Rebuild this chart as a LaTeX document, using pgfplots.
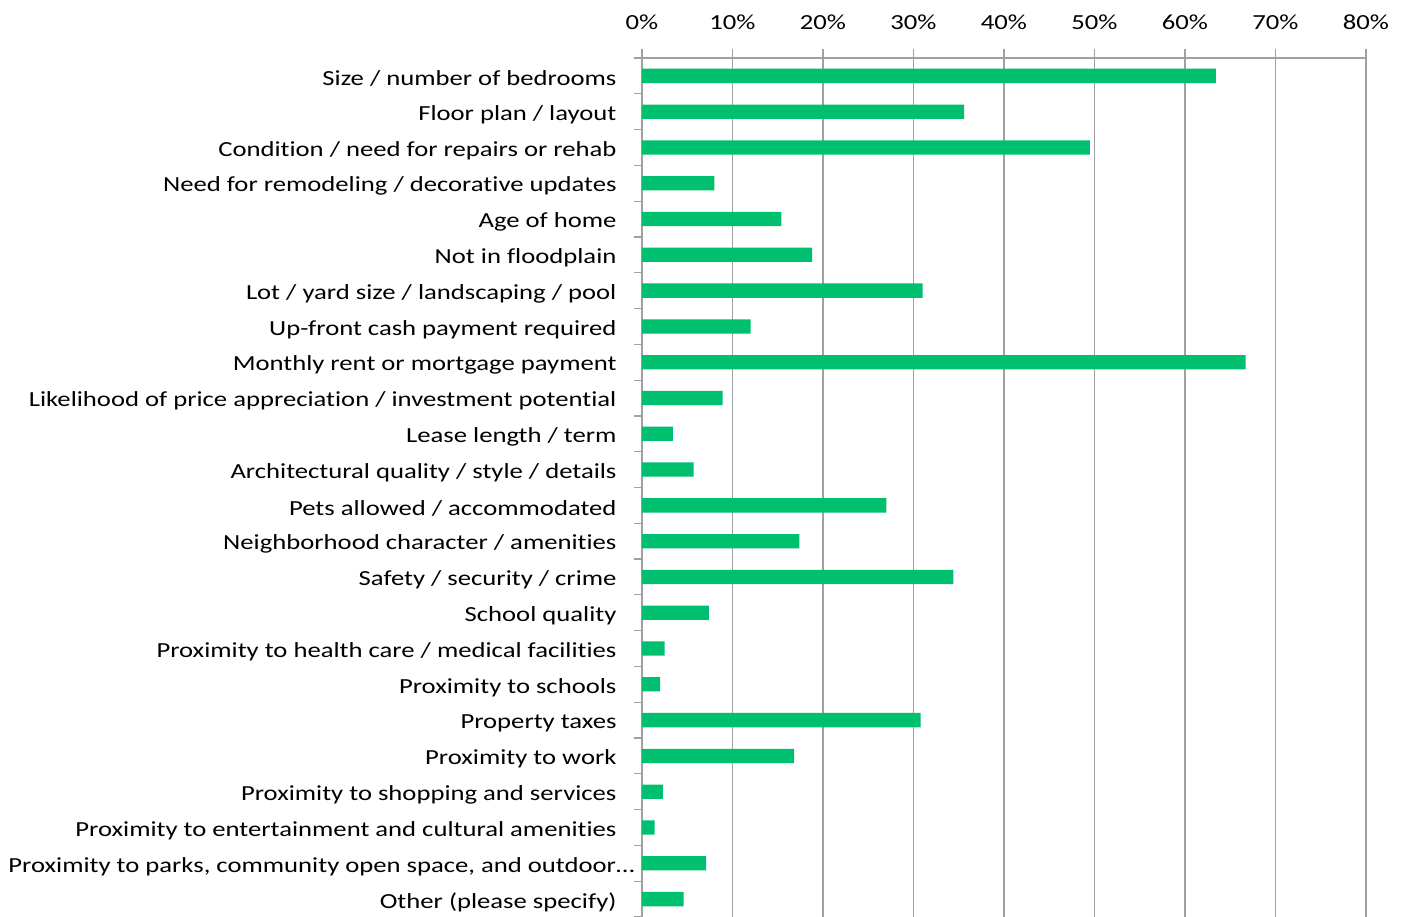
\documentclass[border=0pt]{standalone}
\usepackage{fontspec}
\setmainfont{Carlito}[FakeStretch=1.24, Ligatures=NoCommon]
\usepackage{pgfplots}
\pgfplotsset{compat=1.18}
\usetikzlibrary{calc}
\definecolor{barcol}{HTML}{00BF6F}
\definecolor{gridcol}{HTML}{A0A0A0}
\begin{document}
\begin{tikzpicture}
\begin{axis}[
  scale only axis,
  width=724bp, height=859bp,
  xbar, bar width=14.3bp,
  xmin=0, xmax=80, ymin=-0.5, ymax=23.5,
  axis x line=top, axis y line=left,
  axis line style={gridcol, line width=1.2bp, -},
  tick align=outside,
  major tick length=9bp, minor tick length=8bp,
  xtick={0,10,...,80},
  xticklabels={0\%,10\%,20\%,30\%,40\%,50\%,60\%,70\%,80\%},
  xmajorgrids,
  grid style={gridcol, line width=1.2bp},
  major x tick style={gridcol, line width=1.2bp},
  ytick={0,...,23},
  minor ytick={-0.5,0.5,...,23.5},
  major y tick style={draw=none},
  minor y tick style={gridcol, line width=1.2bp},
  ticklabel style={font=\fontsize{21.5bp}{26bp}\selectfont, text=black},
  xticklabel style={yshift=16bp},
  yticklabel style={xshift=-13bp, yshift=-3bp},
  yticklabels={
    Other (please specify),
    {Proximity to parks, community open space, and outdoor…\hspace*{-18bp}},
    Proximity to entertainment and cultural amenities,
    Proximity to shopping and services,
    Proximity to work,
    Property taxes,
    Proximity to schools,
    Proximity to health care / medical facilities,
    School quality,
    Safety / security / crime,
    Neighborhood character / amenities,
    Pets allowed / accommodated,
    Architectural quality / style / details,
    Lease length / term,
    Likelihood of price appreciation / investment potential,
    Monthly rent or mortgage payment,
    Up-front cash payment required,
    Lot / yard size / landscaping / pool,
    Not in floodplain,
    Age of home,
    Need for remodeling / decorative updates,
    Condition / need for repairs or rehab,
    Floor plan / layout,
    Size / number of bedrooms},
]
\addplot[fill=barcol, draw=none] coordinates {
  (4.6,0) (7.1,1) (1.4,2) (2.3,3) (16.8,4) (30.8,5) (2.0,6) (2.5,7)
  (7.4,8) (34.4,9) (17.4,10) (27.0,11) (5.7,12) (3.4,13) (8.9,14) (66.7,15)
  (12.0,16) (31.0,17) (18.8,18) (15.4,19) (8.0,20) (49.5,21) (35.6,22) (63.4,23)
};
\coordinate (tl) at (rel axis cs:0,1);
\end{axis}
\pgfresetboundingbox
\path[use as bounding box] ($(tl)+(-642bp,58bp)$) rectangle ($(tl)+(762bp,-859bp)$);
\end{tikzpicture}
\end{document}
